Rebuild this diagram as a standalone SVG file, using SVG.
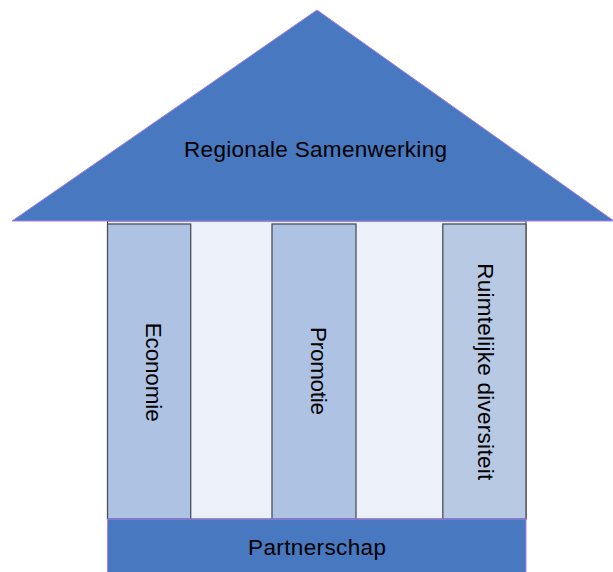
<svg xmlns="http://www.w3.org/2000/svg" width="613" height="572" viewBox="0 0 613 572">
<style>
.lbl{font-family:"Liberation Sans",Arial,sans-serif;font-size:22.5px;fill:#000}
.dark{fill:#4878BF;stroke:#A97FF0;stroke-width:1}
.pillar{stroke:#4a4f58;stroke-width:1.3}
</style>
<rect x="0" y="0" width="613" height="572" fill="#fff"/>
<g id="back">
<rect x="107.5" y="221" width="418.5" height="298" fill="#ECF0F8" stroke="#333" stroke-width="1"/>
</g>
<g id="roof">
<polygon class="dark" points="12,221 317,10 614,221"/>
<text class="lbl" x="315.5" y="157.3" text-anchor="middle" textLength="263" lengthAdjust="spacing">Regionale Samenwerking</text>
</g>
<g id="economie">
<rect class="pillar" x="107.5" y="224" width="83.2" height="295" fill="#AEC2E3"/>
<text class="lbl" transform="translate(146,372.2) rotate(90)" text-anchor="middle" textLength="99" lengthAdjust="spacing">Economie</text>
</g>
<g id="promotie">
<rect class="pillar" x="272" y="224" width="84" height="295" fill="#AEC2E3"/>
<text class="lbl" transform="translate(311,371) rotate(90)" text-anchor="middle" textLength="88" lengthAdjust="spacing">Promotie</text>
</g>
<g id="ruimtelijke">
<rect class="pillar" x="442.8" y="224" width="83.2" height="295" fill="#B8C9E3"/>
<text class="lbl" transform="translate(478,371.7) rotate(90)" text-anchor="middle" textLength="217" lengthAdjust="spacing">Ruimtelijke diversiteit</text>
</g>
<g id="partnerschap">
<rect class="dark" x="107.5" y="519" width="418.5" height="60"/>
<text class="lbl" x="317" y="554.5" text-anchor="middle" textLength="138" lengthAdjust="spacing">Partnerschap</text>
</g>
<g id="connectors"></g>
</svg>
